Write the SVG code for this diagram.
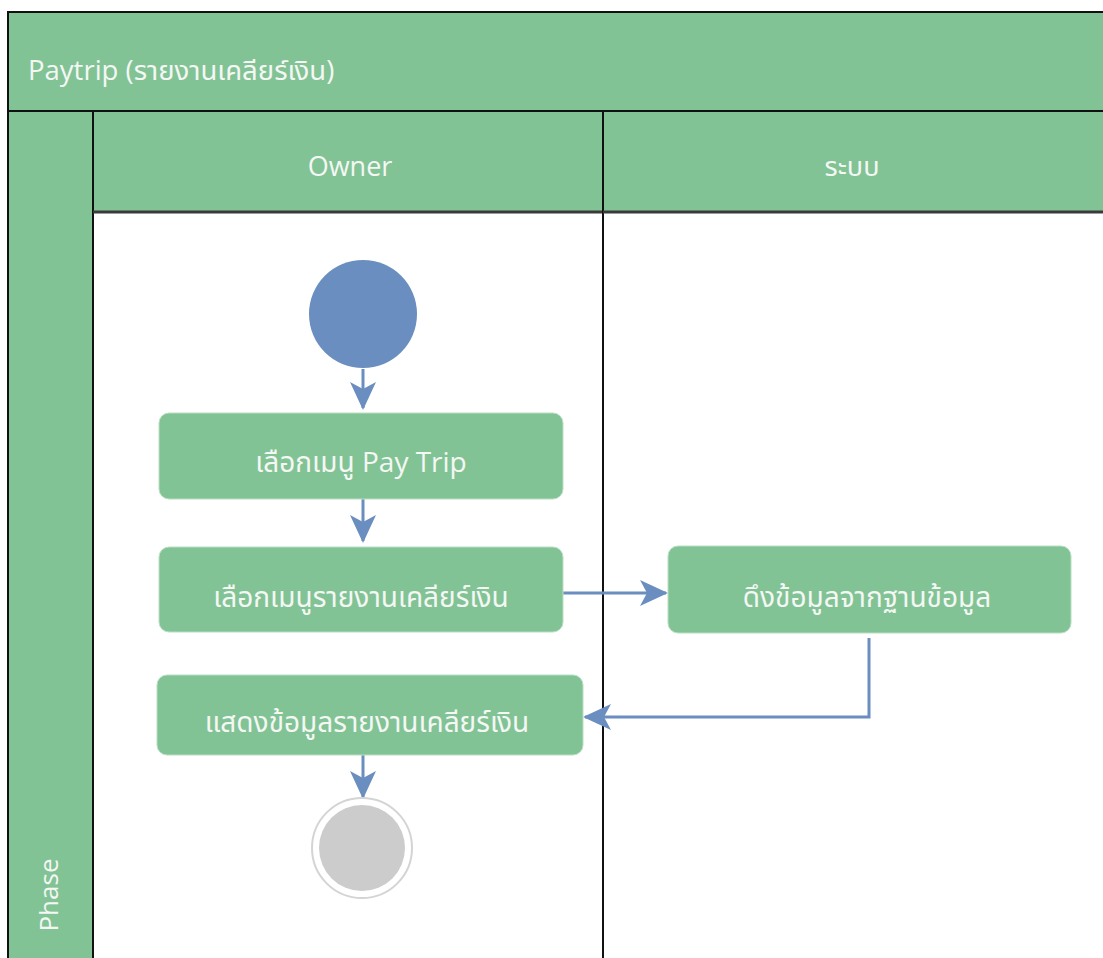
<svg xmlns="http://www.w3.org/2000/svg" width="1103" height="958" viewBox="0 0 1103 958">
<style>
.band{fill:#82c395;stroke:#111;stroke-width:2}
.act{fill:#82c395;stroke:#b8dfc3;stroke-width:1}
.lbl{font-family:"Open Sans","Noto Sans","Noto Sans Thai","Liberation Sans",sans-serif;fill:#f4f7f4;font-size:28px;text-anchor:middle}
.conn{fill:none;stroke:#6a8ec0;stroke-width:3}
</style>
<defs>
<marker id="ahb" markerWidth="28" markerHeight="28" refX="26" refY="14" orient="auto" markerUnits="userSpaceOnUse" viewBox="0 0 28 28">
<path d="M0,1 L28,14 L0,27 L7,14 Z" fill="#6a8ec0"/>
</marker>
</defs>
<rect width="1103" height="958" fill="#fff"/>
<g id="pool">
<rect class="band" x="8" y="12" width="1100" height="99"/>
<text class="lbl" x="28" y="80" style="text-anchor:start;font-size:27.5px">Paytrip (รายงานเคลียร์เงิน)</text>
</g>
<g id="phase">
<rect class="band" x="8" y="111" width="85" height="850"/>
<text class="lbl" transform="translate(58,895) rotate(-90)" style="font-size:26px">Phase</text>
</g>
<g id="lane-owner">
<rect x="93" y="212" width="510" height="750" fill="#fff" stroke="#111" stroke-width="2"/>
<rect x="93" y="111" width="510" height="101" fill="#82c395" stroke="#111" stroke-width="2"/>
<line x1="93" y1="212" x2="603" y2="212" stroke="#3a3a3a" stroke-width="3"/>
<text class="lbl" x="350" y="176" style="font-size:27px">Owner</text>
</g>
<g id="lane-system">
<rect x="603" y="212" width="510" height="750" fill="#fff" stroke="#111" stroke-width="2"/>
<rect x="603" y="111" width="510" height="101" fill="#82c395" stroke="#111" stroke-width="2"/>
<line x1="603" y1="212" x2="1110" y2="212" stroke="#3a3a3a" stroke-width="3"/>
<text class="lbl" x="852" y="176" style="font-size:27px">ระบบ</text>
</g>
<g id="connectors">
<line class="conn" x1="363" y1="369" x2="363" y2="408" marker-end="url(#ahb)"/>
<line class="conn" x1="363" y1="499" x2="363" y2="541" marker-end="url(#ahb)"/>
<line class="conn" x1="563" y1="593" x2="666" y2="593" marker-end="url(#ahb)"/>
<polyline class="conn" points="869,638 869,717 585,717" marker-end="url(#ahb)"/>
<line class="conn" x1="363" y1="755" x2="363" y2="797" marker-end="url(#ahb)"/>
</g>
<g id="start">
<circle cx="363" cy="314" r="54" fill="#6a8ec0"/>
</g>
<g id="a1">
<rect class="act" x="159" y="413" width="404" height="86" rx="10"/>
<text class="lbl" x="361" y="472">เลือกเมนู Pay Trip</text>
</g>
<g id="a2">
<rect class="act" x="159" y="547" width="404" height="85" rx="10"/>
<text class="lbl" x="361" y="607">เลือกเมนูรายงานเคลียร์เงิน</text>
</g>
<g id="a3">
<rect class="act" x="668" y="546" width="403" height="87" rx="10"/>
<text class="lbl" x="867" y="607">ดึงข้อมูลจากฐานข้อมูล</text>
</g>
<g id="a4">
<rect class="act" x="157" y="675" width="426" height="80" rx="10"/>
<text class="lbl" x="367" y="732">แสดงข้อมูลรายงานเคลียร์เงิน</text>
</g>
<g id="end">
<circle cx="362" cy="848" r="50" fill="#fff" stroke="#d4d4d4" stroke-width="2"/>
<circle cx="362" cy="848" r="43" fill="#cccccc"/>
</g>
</svg>
